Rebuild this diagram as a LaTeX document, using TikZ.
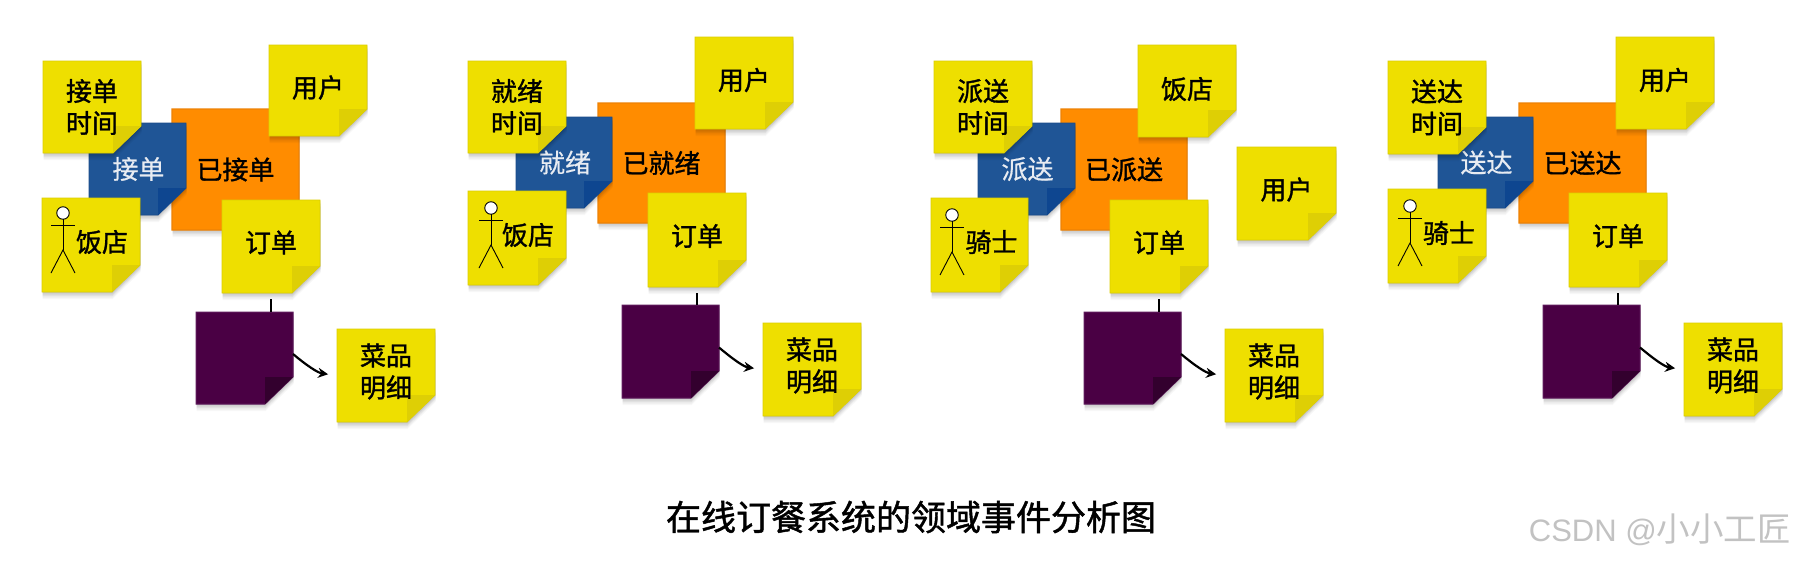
\documentclass[tikz,border=0pt]{standalone}
\usepackage{fontspec}
\setmainfont{Noto Sans CJK SC}
\newfontfamily\cjkmed{Noto Sans CJK SC}[FakeBold=1.3]
\newfontfamily\cjksemi{Noto Sans CJK SC}[FakeBold=0.5]
\newfontfamily\latinwm{Liberation Sans}
\usetikzlibrary{arrows.meta}
\tikzset{
  yellowpaper/.style={fill=noteyellow,draw=noteedge,line width=0.8pt},
  yellowfold/.style={fill=notefold},
  yellowtext/.style={text=black,font=\fontsize{26}{32}\cjkmed},
  bluepaper/.style={fill=cmdblue,draw=cmdedge,line width=0.8pt},
  bluefold/.style={fill=cmdfold},
  bluetext/.style={text=cmdtext,font=\fontsize{26}{32}\cjksemi},
  orangepaper/.style={fill=evtorange,draw=evtedge,line width=1.2pt},
  orangefold/.style={fill=evtfold},
  orangetext/.style={text=black,font=\fontsize{26}{32}\cjkmed},
  purplepaper/.style={fill=aggpurple,draw=aggedge,line width=1pt},
  purplefold/.style={fill=aggfold},
  purpletext/.style={text=white},
  notebody/.style={inner sep=0pt,outer sep=0pt},
  link/.style={draw=black,line width=2.2pt},
  actorline/.style={draw=black,line width=0.9pt},
  actorhead/.style={circle,draw=black,fill=white,line width=0.9pt,minimum size=12.5pt,inner sep=0pt,outer sep=0pt},
}
\definecolor{noteyellow}{HTML}{EEDF00}
\definecolor{noteedge}{HTML}{DCCE00}
\definecolor{notefold}{HTML}{DECF05}
\definecolor{cmdblue}{HTML}{1F5596}
\definecolor{cmdedge}{HTML}{1A4C8A}
\definecolor{cmdfold}{HTML}{0E4690}
\definecolor{cmdtext}{HTML}{E8ECF2}
\definecolor{evtorange}{HTML}{FF8C00}
\definecolor{evtedge}{HTML}{EE8206}
\definecolor{evtfold}{HTML}{F28400}
\definecolor{aggpurple}{HTML}{4A0044}
\definecolor{aggedge}{HTML}{5E1A5C}
\definecolor{aggfold}{HTML}{33002E}
% outline of a sticky note: left, top, width, height
\newcommand{\stickyoutline}[4]{(#1,#2) -- ({#1+#3},#2) -- ({#1+#3},{#2+#4-27}) -- ({#1+#3-28},{#2+#4}) -- (#1,{#2+#4}) -- cycle}
% kind, name, left, top, width, height, dx, dy, text
\newcommand{\sticky}[9]{%
  \foreach \soff/\sop in {7/0.03,5.5/0.04,4/0.05,2.5/0.06,1/0.07}{%
    \fill[black,fill opacity=\sop,shift={(0.5,\soff)}] \stickyoutline{#3}{#4}{#5}{#6};}
  \path[#1paper] \stickyoutline{#3}{#4}{#5}{#6};
  \fill[#1fold] ({#3+#5-28},{#4+#6}) -- ({#3+#5-28},{#4+#6-27}) -- ({#3+#5},{#4+#6-27}) -- cycle;
  \node[notebody,minimum width=#5pt,minimum height=#6pt,
        label={[#1text,align=center,xshift=#7pt,yshift=#8pt,inner sep=0pt]center:{#9}}]
       (#2) at ({#3+#5/2},{#4+#6/2}) {};
}
% prefix, head x, head y
\newcommand{\actor}[3]{%
  \node[actorhead] (#1head) at (#2,#3) {};
  \coordinate (#1hip) at (#2,{#3+37});
  \draw[actorline] (#1head.south) -- (#1hip);
  \coordinate (#1handl) at ({#2-12},{#3+12});
  \coordinate (#1handr) at ({#2+12},{#3+12});
  \draw[actorline] (#1handl) -- (#1handr);
  \coordinate (#1footl) at ({#2-12},{#3+60});
  \coordinate (#1footr) at ({#2+12},{#3+60});
  \draw[actorline] (#1footl) -- (#1hip) -- (#1footr);
}
% order-to-aggregate and aggregate-to-menu connectors
\newcommand{\links}[1]{%
  \draw[link,shorten <=6pt] (#1order.south) -- (#1order.south |- #1agg.north);
  \draw[link,-{Stealth[length=10pt,width=10pt]},shorten >=9pt]
    ([yshift=4pt]#1agg.east) to[out=-40,in=172] (#1menu.west);
}
\begin{document}
\begin{tikzpicture}[x=1pt,y=-1pt]
\useasboundingbox (0,0) rectangle (1796,560);
\fill[white] (0,0) rectangle (1796,560);
% panel 1
\sticky{orange}{aevt}{172}{109}{127}{121}{0}{0}{已接单}
\sticky{yellow}{auser}{269}{45}{98}{91}{0}{3}{用户}
\sticky{blue}{acmd}{89}{123}{97}{92}{1}{0}{接单}
\sticky{yellow}{atime}{43}{61}{98}{92}{0}{0}{接单\\时间}
\sticky{yellow}{ashop}{42}{198}{98}{94}{11}{3}{饭店}
\actor{aa}{63}{213}
\sticky{yellow}{aorder}{222}{200}{98}{93}{0}{4}{订单}
\sticky{purple}{aagg}{196}{312}{97}{92}{0}{0}{}
\sticky{yellow}{amenu}{337}{329}{98}{93}{0}{4}{菜品\\明细}
\links{a}
% panel 2
\sticky{orange}{bevt}{598}{103}{127}{120}{0}{0}{已就绪}
\sticky{yellow}{buser}{695}{37}{98}{92}{0}{3}{用户}
\sticky{blue}{bcmd}{516}{117}{96}{91}{1}{0}{就绪}
\sticky{yellow}{btime}{468}{61}{98}{92}{0}{0}{就绪\\时间}
\sticky{yellow}{bshop}{468}{191}{98}{94}{11}{3}{饭店}
\actor{ba}{491}{208}
\sticky{yellow}{border}{648}{193}{98}{94}{0}{4}{订单}
\sticky{purple}{bagg}{622}{305}{97}{93}{0}{0}{}
\sticky{yellow}{bmenu}{763}{323}{98}{93}{0}{4}{菜品\\明细}
\links{b}
% panel 3
\sticky{orange}{cevt}{1061}{109}{126}{121}{0}{0}{已派送}
\sticky{yellow}{cshop}{1138}{45}{98}{92}{0}{2}{饭店}
\sticky{yellow}{cuser}{1237}{147}{99}{93}{0}{4}{用户}
\sticky{blue}{ccmd}{978}{123}{97}{92}{1}{0}{派送}
\sticky{yellow}{ctime}{934}{61}{98}{92}{0}{0}{派送\\时间}
\sticky{yellow}{crider}{931}{198}{97}{94}{12}{3}{骑士}
\actor{ca}{952}{215}
\sticky{yellow}{corder}{1110}{200}{98}{93}{0}{4}{订单}
\sticky{purple}{cagg}{1084}{312}{97}{92}{0}{0}{}
\sticky{yellow}{cmenu}{1225}{329}{98}{93}{0}{4}{菜品\\明细}
\links{c}
% panel 4
\sticky{orange}{devt}{1519}{103}{127}{120}{0}{0}{已送达}
\sticky{yellow}{duser}{1616}{37}{98}{92}{0}{3}{用户}
\sticky{blue}{dcmd}{1438}{117}{95}{91}{1}{0}{送达}
\sticky{yellow}{dtime}{1388}{61}{98}{93}{0}{0}{送达\\时间}
\sticky{yellow}{drider}{1388}{189}{98}{94}{12}{3}{骑士}
\actor{da}{1410}{206}
\sticky{yellow}{dorder}{1569}{193}{98}{94}{0}{4}{订单}
\sticky{purple}{dagg}{1543}{305}{97}{93}{0}{0}{}
\sticky{yellow}{dmenu}{1684}{323}{98}{93}{0}{4}{菜品\\明细}
\links{d}
% caption and watermark
\node[font=\fontsize{35}{40}\cjkmed,text=black,inner sep=0pt] (caption) at (911,517) {在线订餐系统的领域事件分析图};
\node[anchor=east,text=black!24,font=\fontsize{33.5}{38}\selectfont,inner sep=0pt] (mark) at (1791,530) {{\latinwm\fontsize{31}{38}\selectfont CSDN @}小小工匠};
\end{tikzpicture}
\end{document}
